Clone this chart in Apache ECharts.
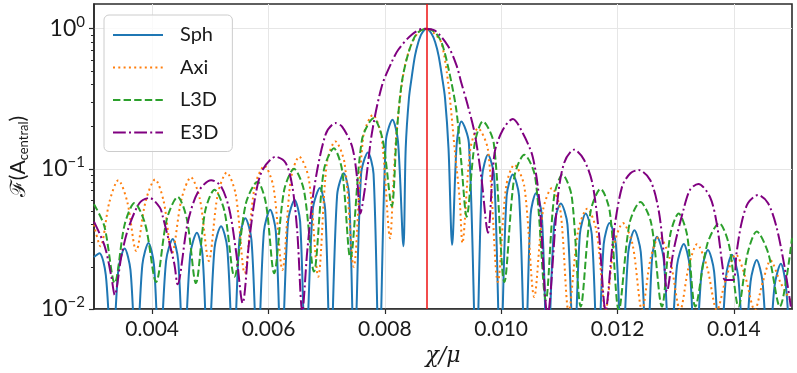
<!DOCTYPE html>
<html>
<head>
<meta charset="utf-8">
<script src="https://cdn.jsdelivr.net/npm/echarts@6/dist/echarts.min.js"></script>
<style>
  html, body { margin: 0; padding: 0; background: #fff; }
  #chart { width: 797px; height: 373px; }
</style>
</head>
<body>
<div id="chart"></div>
<script>
// tick positions
const xTicks = [0.004, 0.006, 0.008, 0.010, 0.012, 0.014];
const yTicks = [0.01, 0.1, 1];
const yMinorTicks = [0.02, 0.03, 0.04, 0.05, 0.06, 0.07, 0.08, 0.09,
                     0.2, 0.3, 0.4, 0.5, 0.6, 0.7, 0.8, 0.9];
const centralX = 0.00872;

// [chi/mu, F(A_central)]
const sph = [
  [0.00300, 0.0235], [0.003094, 0.025], [0.003203, 0.0175], [0.003311, 0.004],
  [0.003419, 0.019], [0.003527, 0.027], [0.003627, 0.019], [0.003727, 0.004],
  [0.003832, 0.0207], [0.003937, 0.0296], [0.004031, 0.0207], [0.004125, 0.004],
  [0.004240, 0.0221], [0.004354, 0.0316], [0.004448, 0.0221], [0.004542, 0.004],
  [0.004656, 0.0245], [0.004769, 0.035], [0.004865, 0.0245], [0.004960, 0.004],
  [0.005073, 0.0273], [0.005185, 0.039], [0.005291, 0.0273], [0.005397, 0.004],
  [0.005500, 0.0312], [0.005602, 0.0445], [0.005707, 0.0312], [0.005812, 0.004],
  [0.005921, 0.0357], [0.006029, 0.051], [0.006126, 0.0357], [0.006222, 0.004],
  [0.006336, 0.042], [0.006450, 0.060], [0.006544, 0.042], [0.006638, 0.004],
  [0.006761, 0.051], [0.006884, 0.073], [0.006975, 0.051], [0.007065, 0.004],
  [0.007180, 0.065], [0.007294, 0.093], [0.007385, 0.065], [0.007475, 0.004],
  [0.007592, 0.092], [0.007709, 0.131], [0.007806, 0.092], [0.007903, 0.004],
  [0.008018, 0.157], [0.008132, 0.224], [0.008226, 0.157], [0.008320, 0.028],
  [0.008359, 0.14], [0.008415, 0.32], [0.008462, 0.45], [0.008518, 0.64],
  [0.008576, 0.80], [0.008632, 0.92], [0.008718, 1.0], [0.008804, 0.92],
  [0.008866, 0.80], [0.008925, 0.64], [0.008985, 0.45], [0.009035, 0.32],
  [0.009095, 0.14], [0.009157, 0.0287],
  [0.009237, 0.153], [0.009316, 0.218], [0.009445, 0.153], [0.009573, 0.004],
  [0.009673, 0.088], [0.009773, 0.126], [0.009880, 0.088], [0.009988, 0.004],
  [0.010094, 0.064], [0.010200, 0.091], [0.010308, 0.064], [0.010415, 0.004],
  [0.010506, 0.047], [0.010598, 0.067], [0.010698, 0.047], [0.010798, 0.004],
  [0.010912, 0.040], [0.011026, 0.0566], [0.011140, 0.040], [0.011253, 0.004],
  [0.011353, 0.034], [0.011453, 0.048], [0.011558, 0.034], [0.011663, 0.004],
  [0.011763, 0.029], [0.011863, 0.041], [0.011972, 0.029], [0.012080, 0.004],
  [0.012186, 0.0255], [0.012291, 0.0364], [0.012400, 0.0255], [0.012508, 0.004],
  [0.012594, 0.023], [0.012679, 0.0328], [0.012793, 0.023], [0.012906, 0.004],
  [0.013023, 0.0204], [0.013140, 0.0291], [0.013239, 0.0204], [0.013338, 0.004],
  [0.013447, 0.0185], [0.013555, 0.0264], [0.013661, 0.0185], [0.013766, 0.004],
  [0.013866, 0.0171], [0.013966, 0.0244], [0.014075, 0.0171], [0.014183, 0.004],
  [0.014288, 0.0157], [0.014393, 0.0224], [0.014493, 0.0157], [0.014593, 0.004],
  [0.014701, 0.0147], [0.014809, 0.021], [0.014895, 0.0147], [0.014980, 0.004]
];

const axi = [
  [0.003000, 0.040], [0.003111, 0.028], [0.003265, 0.058], [0.003419, 0.083],
  [0.003573, 0.058], [0.003726, 0.026], [0.003889, 0.059], [0.004051, 0.084],
  [0.004197, 0.059], [0.004342, 0.025], [0.004505, 0.061], [0.004667, 0.087],
  [0.004820, 0.061], [0.004974, 0.022], [0.005128, 0.066], [0.005282, 0.094],
  [0.005436, 0.066], [0.005590, 0.018], [0.005761, 0.074], [0.005932, 0.105],
  [0.006086, 0.074], [0.006239, 0.019], [0.006385, 0.085], [0.006530, 0.122],
  [0.006693, 0.085], [0.006855, 0.017], [0.007003, 0.110], [0.007150, 0.157],
  [0.007308, 0.110], [0.007465, 0.020], [0.007630, 0.170], [0.007795, 0.243],
  [0.007943, 0.170], [0.008091, 0.032],
  [0.008144, 0.075], [0.008200, 0.18], [0.008320, 0.48], [0.008433, 0.73],
  [0.008576, 0.94], [0.008718, 1.0], [0.008855, 0.92], [0.008974, 0.79],
  [0.009089, 0.41], [0.009202, 0.137], [0.009288, 0.06], [0.009333, 0.0296],
  [0.009468, 0.137], [0.009602, 0.195], [0.009773, 0.137], [0.009944, 0.0156],
  [0.010086, 0.075], [0.010227, 0.107], [0.010398, 0.075], [0.010569, 0.0122],
  [0.010721, 0.051], [0.010872, 0.073], [0.011017, 0.051], [0.011162, 0.0095],
  [0.011322, 0.036], [0.011482, 0.052], [0.011639, 0.036], [0.011795, 0.0098],
  [0.011945, 0.029], [0.012094, 0.041], [0.012258, 0.029], [0.012422, 0.0098],
  [0.012570, 0.023], [0.012718, 0.033], [0.012898, 0.023], [0.013077, 0.0098],
  [0.013223, 0.020], [0.013368, 0.029], [0.013539, 0.020], [0.013709, 0.0098],
  [0.013872, 0.017], [0.014034, 0.0245], [0.014197, 0.017], [0.014359, 0.0098],
  [0.014496, 0.0155], [0.014632, 0.0222], [0.014800, 0.0155], [0.015000, 0.011]
];

const l3d = [
  [0.003000, 0.056], [0.003178, 0.039], [0.003356, 0.0153],
  [0.003527, 0.040], [0.003697, 0.057], [0.003883, 0.040], [0.004068, 0.0156],
  [0.004254, 0.044], [0.004439, 0.063], [0.004596, 0.044], [0.004752, 0.0153],
  [0.004912, 0.050], [0.005072, 0.071], [0.005243, 0.050], [0.005414, 0.017],
  [0.005613, 0.057], [0.005812, 0.081], [0.005955, 0.057], [0.006097, 0.018],
  [0.006268, 0.070], [0.006439, 0.100], [0.006610, 0.070], [0.006781, 0.0185],
  [0.006952, 0.098], [0.007123, 0.140], [0.007265, 0.098], [0.007407, 0.023],
  [0.007607, 0.161], [0.007807, 0.230], [0.007964, 0.161], [0.008120, 0.054],
  [0.008205, 0.18], [0.008291, 0.41], [0.008405, 0.67], [0.008547, 0.92],
  [0.008718, 1.0], [0.008855, 0.95], [0.008974, 0.80], [0.009094, 0.52],
  [0.009231, 0.26], [0.009316, 0.11], [0.009407, 0.0456],
  [0.009547, 0.153], [0.009687, 0.218], [0.009872, 0.153], [0.010056, 0.0156],
  [0.010227, 0.088], [0.010398, 0.126], [0.010584, 0.088], [0.010769, 0.0116],
  [0.010912, 0.064], [0.011055, 0.091], [0.011212, 0.064], [0.011368, 0.0104],
  [0.011539, 0.050], [0.011709, 0.072], [0.011866, 0.050], [0.012022, 0.0098],
  [0.012208, 0.041], [0.012393, 0.058], [0.012579, 0.041], [0.012764, 0.0104],
  [0.012908, 0.034], [0.013051, 0.048], [0.013195, 0.034], [0.013338, 0.0104],
  [0.013543, 0.029], [0.013748, 0.041], [0.013914, 0.029], [0.014080, 0.0104],
  [0.014237, 0.025], [0.014393, 0.0357], [0.014592, 0.025], [0.014791, 0.0104],
  [0.015000, 0.032]
];

const e3d = [
  [0.003000, 0.042], [0.003185, 0.028], [0.003299, 0.017], [0.003356, 0.0126],
  [0.003470, 0.0237], [0.003585, 0.037], [0.003783, 0.057], [0.003954, 0.062],
  [0.004132, 0.053], [0.004183, 0.0456], [0.004381, 0.021], [0.004436, 0.015],
  [0.004610, 0.041], [0.004786, 0.068], [0.005014, 0.083], [0.005185, 0.075],
  [0.005328, 0.051], [0.005441, 0.026], [0.005556, 0.011],
  [0.005670, 0.031], [0.005783, 0.067], [0.005897, 0.098], [0.006125, 0.122],
  [0.006296, 0.11], [0.006410, 0.075], [0.006496, 0.035], [0.006581, 0.0095],
  [0.006667, 0.026], [0.006781, 0.071], [0.006980, 0.175], [0.007150, 0.212],
  [0.007265, 0.20], [0.007436, 0.145], [0.007521, 0.088], [0.007578, 0.048],
  [0.007663, 0.075], [0.007778, 0.18], [0.007949, 0.39], [0.008120, 0.58],
  [0.008234, 0.71], [0.008462, 0.906], [0.008667, 1.0], [0.008860, 0.97],
  [0.009089, 0.75], [0.009231, 0.55], [0.009316, 0.41], [0.009430, 0.28],
  [0.009544, 0.18], [0.009658, 0.088], [0.009773, 0.035],
  [0.009886, 0.129], [0.010029, 0.19], [0.010200, 0.227], [0.010371, 0.18],
  [0.010542, 0.122], [0.010655, 0.06], [0.010798, 0.009],
  [0.010969, 0.06], [0.011082, 0.11], [0.011253, 0.137], [0.011424, 0.116],
  [0.011568, 0.079], [0.011680, 0.035], [0.011795, 0.0098],
  [0.011936, 0.035], [0.012080, 0.075], [0.012222, 0.093], [0.012364, 0.098],
  [0.012564, 0.083], [0.012706, 0.051], [0.012791, 0.026], [0.012850, 0.0133],
  [0.012963, 0.026], [0.013134, 0.051], [0.013248, 0.071], [0.013390, 0.078],
  [0.013590, 0.063], [0.013705, 0.041], [0.013807, 0.02], [0.013846, 0.0161],
  [0.013988, 0.0161], [0.014046, 0.025], [0.014132, 0.041], [0.014244, 0.057],
  [0.014415, 0.065], [0.014586, 0.057], [0.014730, 0.039], [0.014872, 0.02],
  [0.014980, 0.0104]
];

const textColor = '#1a1a1a';
const spineColor = '#2b2b2b';
const font = 'Lato';

function makeSeries(name, data, color, dash) {
  return {
    name: name,
    type: 'line',
    data: data,
    symbol: 'none',
    showSymbol: false,
    smooth: 0.3,
    clip: true,
    lineStyle: { color: color, width: 2, type: dash, cap: 'butt' },
    itemStyle: { color: color }
  };
}

const seriesList = [
  makeSeries('Sph', sph, '#1f77b4', 'solid'),
  makeSeries('Axi', axi, '#ff7f0e', [2, 3.3]),
  makeSeries('L3D', l3d, '#2ca02c', [7.4, 3.2]),
  makeSeries('E3D', e3d, '#800080', [12.8, 3.2, 2, 3.2])
];
// red vertical line at the central value
seriesList[3].markLine = {
  silent: true,
  precision: 8,
  symbol: ['none', 'none'],
  label: { show: false },
  lineStyle: { color: '#ee1111', width: 1.5, type: 'solid' },
  data: [{ xAxis: centralX }]
};

const option = {
  animation: false,
  backgroundColor: '#ffffff',
  grid: {
    left: 91, right: 5, top: 4, bottom: 64,
    show: true, borderColor: spineColor, borderWidth: 1.6, backgroundColor: 'transparent'
  },
  legend: {
    orient: 'vertical',
    left: 104, top: 15,
    data: ['Sph', 'Axi', 'L3D', 'E3D'],
    itemWidth: 50, itemHeight: 14, itemGap: 12.5,
    padding: [10, 14, 9, 8],
    backgroundColor: 'rgba(255,255,255,0.8)',
    borderColor: '#cccccc', borderWidth: 1, borderRadius: 5,
    itemStyle: { opacity: 0 },
    textStyle: { fontSize: 20, color: textColor, fontFamily: font, padding: [0, 0, 0, 12] }
  },
  xAxis: {
    type: 'value',
    min: 0.003, max: 0.015,
    axisLine: { onZero: false, lineStyle: { color: spineColor, width: 1.6 } },
    axisTick: { length: 5, customValues: xTicks, lineStyle: { color: spineColor, width: 1.2 } },
    axisLabel: {
      customValues: xTicks, margin: 10, fontSize: 21, color: textColor, fontFamily: font,
      formatter: function (v) { return v.toFixed(3); }
    },
    splitLine: { show: true, lineStyle: { color: '#e6e6e6', width: 1 } },
    name: 'χ/μ',
    nameLocation: 'middle', nameGap: 35,
    nameTextStyle: { fontSize: 22, fontStyle: 'italic', color: textColor, fontFamily: 'DejaVu Serif' }
  },
  yAxis: [{
    type: 'log', logBase: 10,
    min: 0.01, max: 1.5,
    axisLine: { show: true, lineStyle: { color: spineColor, width: 1.6 } },
    axisTick: { show: true, length: 5, customValues: yTicks, lineStyle: { color: spineColor, width: 1.2 } },
    axisLabel: {
      customValues: yTicks, margin: 9, color: textColor,
      formatter: function (v) {
        const e = Math.round(Math.log10(v));
        return '{b|10}{s|' + (e < 0 ? '\u2212' + (-e) : e) + '}';
      },
      rich: {
        b: { fontSize: 23, fontFamily: font, color: textColor },
        s: { fontSize: 15, fontFamily: font, color: textColor, padding: [0, 0, 13, 0] }
      }
    },
    splitLine: { show: true, lineStyle: { color: '#e6e6e6', width: 1 } },
    name: '{a|\u2131(A}{b|central}{a|)}',
    nameLocation: 'middle', nameGap: 62, nameRotate: 90,
    nameTextStyle: {
      rich: {
        a: { fontSize: 21, fontFamily: font, color: textColor },
        b: { fontSize: 13, fontFamily: font, color: textColor, padding: [10, 0, 0, 0] }
      }
    }
  }, {
    type: 'log', logBase: 10,
    min: 0.01, max: 1.5,
    position: 'left',
    axisLine: { show: false },
    axisLabel: { show: false },
    splitLine: { show: false },
    axisTick: { show: true, length: 3, customValues: yMinorTicks, lineStyle: { color: spineColor, width: 1 } }
  }],
  series: seriesList
};

const chart = echarts.init(document.getElementById('chart'));
chart.setOption(option);
</script>
</body>
</html>
